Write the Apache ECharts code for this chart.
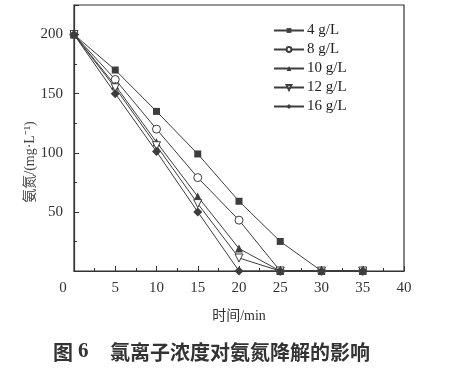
<!DOCTYPE html>
<html>
<head>
<meta charset="utf-8">
<script src="https://cdn.jsdelivr.net/npm/echarts@6/dist/echarts.min.js"></script>
<style>html,body{margin:0;padding:0;background:#fff;}#c{width:450px;height:368px;}</style>
</head>
<body>
<div id="c"></div>
<script>
const times = [0, 5, 10, 15, 20, 25, 30, 35];
const seriesNames = ['4 g/L', '8 g/L', '10 g/L', '12 g/L', '16 g/L'];
const s4 = [200, 170, 135, 99, 59, 25, 0, 0];
const s8 = [200, 162, 120, 79, 43, 0, 0, 0];
const s10 = [200, 157, 109, 63, 19, 0, 0, 0];
const s12 = [200, 155, 106, 57, 11, 0, 0, 0];
const s16 = [200, 150, 101, 50, 0, 0, 0, 0];
const xTicks = [0, 5, 10, 15, 20, 25, 30, 35, 40];
const yTicks = [50, 100, 150, 200];

const lineColor = '#3d3d3d';
const serif = '"Liberation Serif", "Times New Roman", serif';
const cjk = '"Liberation Serif", "Noto Sans CJK SC", serif';

function mk(name, data, symbol, size, hollow) {
  return {
    name: name,
    type: 'line',
    data: times.map((t, i) => [t, data[i]]),
    symbol: symbol,
    symbolSize: size,
    showAllSymbol: true,
    lineStyle: { color: lineColor, width: 1 },
    itemStyle: hollow
      ? { color: '#fff', borderColor: lineColor, borderWidth: 1 }
      : { color: lineColor, borderColor: lineColor, borderWidth: 0 },
    emphasis: { disabled: true },
    z: 3
  };
}

const chart = echarts.init(document.getElementById('c'), null, { renderer: 'canvas' });
chart.setOption({
  animation: false,
  backgroundColor: '#fff',
  grid: { left: 74, top: 5, right: 46, bottom: 97, show: true, borderColor: '#333', borderWidth: 1.2, backgroundColor: 'transparent' },
  legend: {
    orient: 'vertical',
    left: 268,
    top: 18,
    itemWidth: 30,
    itemHeight: 6,
    itemGap: 4,
    textStyle: { fontFamily: serif, fontSize: 15, color: '#222', padding: [0, 0, 0, -2] },
    data: seriesNames
  },
  xAxis: {
    type: 'value',
    min: 0, max: 40, interval: 5,
    axisLine: { lineStyle: { color: '#333', width: 1.2 } },
    axisTick: { inside: true, length: 5, lineStyle: { color: '#333' } },
    minorTick: { show: true, splitNumber: 2, length: 3, lineStyle: { color: '#333' } },
    splitLine: { show: false },
    axisLabel: {
      margin: 10,
      fontFamily: serif, fontSize: 15, color: '#333',
      formatter: v => xTicks.includes(v) ? (v === 0 ? '{z|0}' : String(v)) : '',
      rich: { z: { fontFamily: serif, fontSize: 15, color: '#333', padding: [0, 22, 0, 0] } }
    },
    name: '时间/min',
    nameLocation: 'middle',
    nameGap: 38,
    nameTextStyle: { fontFamily: cjk, fontSize: 14, color: '#333' }
  },
  yAxis: {
    type: 'value',
    min: 0, max: 225, interval: 50,
    axisLine: { show: true, lineStyle: { color: '#333', width: 1.2 } },
    axisTick: { show: true, inside: true, length: 5, lineStyle: { color: '#333' } },
    minorTick: { show: true, splitNumber: 2, length: 3, lineStyle: { color: '#333' } },
    splitLine: { show: false },
    axisLabel: {
      margin: 11,
      fontFamily: serif, fontSize: 15, color: '#333',
      formatter: v => yTicks.includes(v) ? String(v) : ''
    }
  },
  graphic: [
    {
      type: 'text',
      x: 30, y: 162,
      rotation: Math.PI / 2,
      style: {
        text: '氨氮/(mg·L⁻¹)',
        fontFamily: cjk, fontSize: 14, fill: '#444',
        align: 'center', verticalAlign: 'middle'
      }
    },
    {
      type: 'text',
      x: 53, y: 352,
      style: {
        text: '{a|图 }{n|6}{b|氯离子浓度对氨氮降解的影响}',
        rich: {
          a: { fontFamily: '"Noto Sans CJK SC"', fontWeight: 'bold', fontSize: 20, fill: '#333', width: 25 },
          n: { fontFamily: serif, fontWeight: 'bold', fontSize: 21, fill: '#333', width: 32 },
          b: { fontFamily: '"Noto Sans CJK SC"', fontWeight: 'bold', fontSize: 20, fill: '#333' }
        },
        verticalAlign: 'middle'
      }
    }
  ],
  series: [
    mk(seriesNames[0], s4, 'rect', 7, false),
    mk(seriesNames[1], s8, 'circle', 8, true),
    mk(seriesNames[2], s10, 'triangle', 8, false),
    mk(seriesNames[3], s12, 'path://M0,0 L10,0 L5,9 Z', 8, true),
    mk(seriesNames[4], s16, 'diamond', 9, false)
  ]
});
</script>
</body>
</html>
